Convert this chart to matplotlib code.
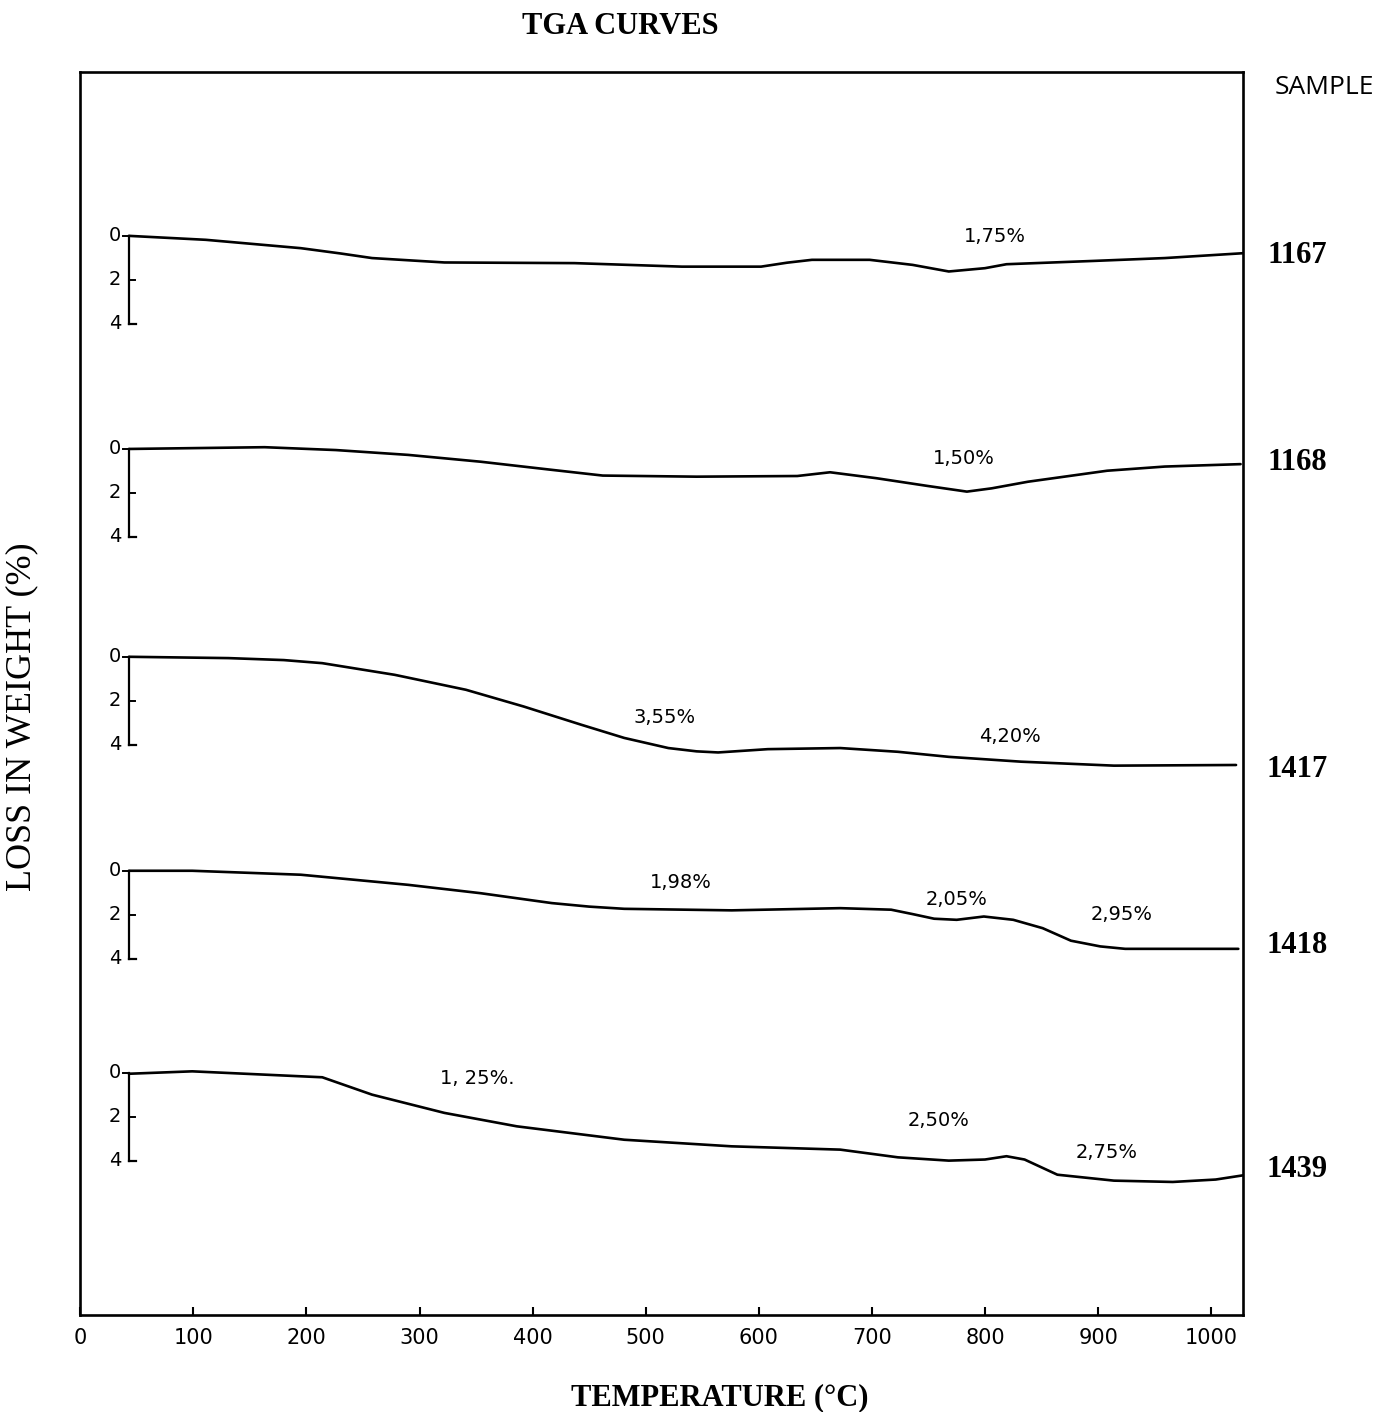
import numpy as np
import matplotlib.pyplot as plt

# fonts: condensed sans for the hand-lettered numbers, serif for the typed titles
NUM_FONT = ['Liberation Sans Narrow', 'DejaVu Sans']
SERIF = ['Liberation Serif', 'DejaVu Serif']

# DATA
samples = ['1167', '1168', '1417', '1418', '1439']
# vertical offset of each curve's zero line (in % units from top of frame)
offsets = [7.45, 17.14, 26.59, 36.32, 45.50]

temp_1167 = [43, 111, 195, 230, 258, 322, 437, 532, 602, 625, 647, 698, 736, 768, 800, 819, 896, 959, 1028]
loss_1167 = [0.0, 0.18, 0.56, 0.80, 1.01, 1.21, 1.24, 1.40, 1.40, 1.22, 1.09, 1.09, 1.32, 1.62, 1.47, 1.29, 1.14, 1.01, 0.79]

temp_1168 = [43, 163, 226, 290, 354, 417, 462, 545, 634, 663, 704, 749, 784, 806, 838, 908, 959, 1026]
loss_1168 = [0.0, -0.08, 0.05, 0.27, 0.58, 0.95, 1.21, 1.26, 1.23, 1.06, 1.33, 1.68, 1.94, 1.79, 1.49, 0.99, 0.80, 0.69]

temp_1417 = [43, 131, 180, 214, 278, 341, 392, 443, 481, 520, 545, 564, 608, 672, 723, 768, 832, 914, 1022]
loss_1417 = [0.0, 0.06, 0.15, 0.29, 0.82, 1.50, 2.26, 3.09, 3.69, 4.15, 4.30, 4.35, 4.20, 4.15, 4.32, 4.55, 4.77, 4.95, 4.92]

temp_1418 = [43, 99, 195, 290, 354, 417, 450, 481, 576, 672, 717, 736, 755, 775, 799, 825, 851, 876, 902, 924, 1024]
loss_1418 = [0.0, 0.0, 0.18, 0.64, 1.02, 1.47, 1.63, 1.73, 1.80, 1.70, 1.77, 1.97, 2.18, 2.23, 2.08, 2.23, 2.61, 3.18, 3.44, 3.55, 3.55]

temp_1439 = [43, 99, 214, 258, 322, 386, 481, 576, 672, 723, 768, 800, 819, 835, 864, 914, 966, 1004, 1028]
loss_1439 = [0.05, -0.06, 0.21, 1.00, 1.83, 2.44, 3.05, 3.35, 3.50, 3.85, 4.00, 3.95, 3.80, 3.95, 4.64, 4.91, 4.97, 4.86, 4.67]

temps = [temp_1167, temp_1168, temp_1417, temp_1418, temp_1439]
losses = [loss_1167, loss_1168, loss_1417, loss_1418, loss_1439]

# step annotations: (sample index, text, temperature, loss position)
notes_idx = [0, 1, 2, 2, 3, 3, 3, 4, 4, 4]
notes_txt = ['1,75%', '1,50%', '3,55%', '4,20%', '1,98%', '2,05%', '2,95%', '1, 25%.', '2,50%', '2,75%']
notes_t = [809, 781, 517, 822, 531, 775, 921, 351, 759, 908]
notes_y = [0.05, 0.45, 2.77, 3.64, 0.55, 1.32, 2.00, 0.27, 2.18, 3.64]

# sample label heights (in % units from top of frame)
sample_y = [8.36, 17.77, 31.73, 39.73, 49.91]

x_ticks = [0, 100, 200, 300, 400, 500, 600, 700, 800, 900, 1000]
scale_ticks = [0, 2, 4]

fig = plt.figure(figsize=(13.84, 14.12), dpi=100)
ax = fig.add_axes([0.058, 0.069, 0.840, 0.880])
ax.set_xlim(0, 1028)
ax.set_ylim(56.5, 0)

for k in range(len(samples)):
    off = offsets[k]
    ax.plot(temps[k], np.array(losses[k]) + off, color='black', lw=1.9,
            solid_joinstyle='round', solid_capstyle='round')
    # small 0-2-4 scale bar at the start of each curve
    ax.plot([43, 43], [off, off + 4], color='black', lw=1.6)
    ax.plot([38, 43], [off, off], color='black', lw=1.4)
    ax.plot([43, 48], [off + 2, off + 2], color='black', lw=1.4)
    ax.plot([43, 49], [off + 4, off + 4], color='black', lw=1.6)
    for v in scale_ticks:
        ax.text(36, off + v, str(v), ha='right', va='center', fontsize=14,
                family=NUM_FONT)
    ax.text(1076, sample_y[k], samples[k], ha='center', va='center', fontsize=22,
            fontweight='bold', family=SERIF, clip_on=False)

for i in range(len(notes_txt)):
    ax.text(notes_t[i], offsets[notes_idx[i]] + notes_y[i], notes_txt[i],
            ha='center', va='center', fontsize=14, family=NUM_FONT)

ax.text(1100, 0.7, 'SAMPLE', ha='center', va='center', fontsize=19,
        family=['Open Sans', 'DejaVu Sans'], clip_on=False)

ax.set_xticks(x_ticks)
ax.set_xticklabels([str(t) for t in x_ticks], family=NUM_FONT, fontsize=15)
ax.set_yticks([])
ax.tick_params(axis='x', direction='in', length=6, width=1.5, pad=10)
for s in ax.spines.values():
    s.set_linewidth(1.9)

ax.set_xlabel('TEMPERATURE (°C)', family=SERIF, fontsize=22, fontweight='bold')
ax.xaxis.set_label_coords(0.55, -0.055)
ax.set_ylabel('LOSS IN WEIGHT (%)', family=SERIF, fontsize=26)
ax.yaxis.set_label_coords(-0.036, 0.481)
fig.text(620 / 1384, 1 - 27 / 1412, 'TGA CURVES', family=SERIF, fontsize=22,
         fontweight='bold', ha='center', va='center')

fig.savefig('out.png', dpi=100)
